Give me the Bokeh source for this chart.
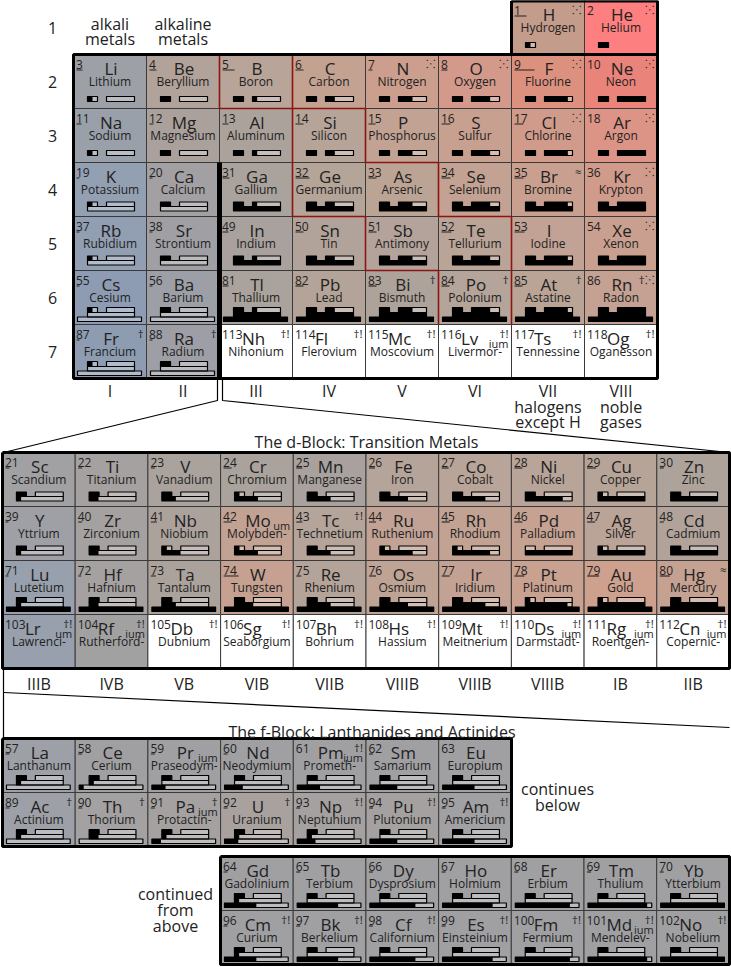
from bokeh.plotting import figure
from bokeh.models import Range1d
from bokeh.embed import file_html
from bokeh.resources import INLINE
from bokeh.core.properties import value

FONT = "Open Sans"
INK = "#222222"

# ---------------- main table data ----------------
main_sym = ["H", "He",
            "Li", "Be", "B", "C", "N", "O", "F", "Ne",
            "Na", "Mg", "Al", "Si", "P", "S", "Cl", "Ar",
            "K", "Ca", "Ga", "Ge", "As", "Se", "Br", "Kr",
            "Rb", "Sr", "In", "Sn", "Sb", "Te", "I", "Xe",
            "Cs", "Ba", "Tl", "Pb", "Bi", "Po", "At", "Rn",
            "Fr", "Ra", "Nh", "Fl", "Mc", "Lv", "Ts", "Og"]
main_num = [1, 2,
            3, 4, 5, 6, 7, 8, 9, 10,
            11, 12, 13, 14, 15, 16, 17, 18,
            19, 20, 31, 32, 33, 34, 35, 36,
            37, 38, 49, 50, 51, 52, 53, 54,
            55, 56, 81, 82, 83, 84, 85, 86,
            87, 88, 113, 114, 115, 116, 117, 118]
main_name = ["Hydrogen", "Helium",
             "Lithium", "Beryllium", "Boron", "Carbon", "Nitrogen", "Oxygen", "Fluorine", "Neon",
             "Sodium", "Magnesium", "Aluminum", "Silicon", "Phosphorus", "Sulfur", "Chlorine", "Argon",
             "Potassium", "Calcium", "Gallium", "Germanium", "Arsenic", "Selenium", "Bromine", "Krypton",
             "Rubidium", "Strontium", "Indium", "Tin", "Antimony", "Tellurium", "Iodine", "Xenon",
             "Cesium", "Barium", "Thallium", "Lead", "Bismuth", "Polonium", "Astatine", "Radon",
             "Francium", "Radium", "Nihonium", "Flerovium", "Moscovium", "Livermor-", "Tennessine", "Oganesson"]
main_group = [7, 8] + [1, 2, 3, 4, 5, 6, 7, 8] * 6
main_period = [1, 1] + [2] * 8 + [3] * 8 + [4] * 8 + [5] * 8 + [6] * 8 + [7] * 8
main_color = ["#c49c8b", "#fd7f7f",
              "#9da1a7", "#b1a39a", "#b8a498", "#c3a292", "#cb9e8d", "#d3998a", "#dc917f", "#ea847a",
              "#9aa0a9", "#aaa19d", "#aca29c", "#b6a499", "#c1a293", "#c8a08f", "#d09b8b", "#db9485",
              "#93a0b2", "#a2a0a3", "#aaa29c", "#b5a498", "#bca495", "#c3a293", "#c9a08f", "#d09b8b",
              "#929fb3", "#a0a0a4", "#a8a19d", "#b2a39a", "#b4a39a", "#b9a497", "#c1a294", "#c9a08f",
              "#8e9cb3", "#9d9fa6", "#aaa29c", "#b3a399", "#aea39b", "#b4a49a", "#b9a496", "#c4a192",
              "#8e9cb2", "#9e9fa6", "#ffffff", "#ffffff", "#ffffff", "#ffffff", "#ffffff", "#ffffff"]
main_s = [1, 2,
          1, 2, 2, 2, 2, 2, 2, 2,
          1, 2, 2, 2, 2, 2, 2, 2,
          1, 2, 2, 2, 2, 2, 2, 2,
          1, 2, 2, 2, 2, 2, 2, 2,
          1, 2, 2, 2, 2, 2, 2, 2,
          1, 2, -1, -1, -1, -1, -1, -1]
main_p = [0, 0] + [0, 0, 1, 2, 3, 4, 5, 6] * 5 + [0, 0, -1, -1, -1, -1, -1, -1]
main_d = [0, 0] + [0] * 16 + [0, 0, 10, 10, 10, 10, 10, 10] * 3 + [0, 0, -1, -1, -1, -1, -1, -1]
main_f = [0, 0] + [0] * 32 + [0, 0, 14, 14, 14, 14, 14, 14] + [0, 0, -1, -1, -1, -1, -1, -1]
main_mark = ["\u2059", "\u2059",
             "", "", "", "", "\u2059", "\u2059", "\u2059", "\u2059",
             "", "", "", "", "", "", "\u2059", "\u2059",
             "", "", "", "", "", "", "\u2248", "\u2059",
             "", "", "", "", "", "", "", "\u2059",
             "", "", "", "", "\u2020", "\u2020", "\u2020", "\u2020\u2059",
             "\u2020", "\u2020", "\u2020!", "\u2020!", "\u2020!", "\u2020!", "\u2020!", "\u2020!"]
main_suffix = [""] * 47 + ["ium", "", ""]
main_ul = [12, 0,
           6, 7, 12, 8, 4, 6, 20, 0,
           5, 4, 6, 8, 7, 9, 9, 0,
           3, 3, 7, 14, 8, 9, 9, 0,
           3, 3, 6, 8, 8, 10, 10, 0,
           3, 3, 6, 8, 8, 8, 8, 0,
           3, 3, 0, 0, 0, 0, 0, 0]

# ---------------- d-block data ----------------
d_sym = ["Sc", "Ti", "V", "Cr", "Mn", "Fe", "Co", "Ni", "Cu", "Zn",
         "Y", "Zr", "Nb", "Mo", "Tc", "Ru", "Rh", "Pd", "Ag", "Cd",
         "Lu", "Hf", "Ta", "W", "Re", "Os", "Ir", "Pt", "Au", "Hg",
         "Lr", "Rf", "Db", "Sg", "Bh", "Hs", "Mt", "Ds", "Rg", "Cn"]
d_num = list(range(21, 31)) + list(range(39, 49)) + list(range(71, 81)) + list(range(103, 113))
d_name = ["Scandium", "Titanium", "Vanadium", "Chromium", "Manganese", "Iron", "Cobalt", "Nickel", "Copper", "Zinc",
          "Yttrium", "Zirconium", "Niobium", "Molybden-", "Technetium", "Ruthenium", "Rhodium", "Palladium", "Silver", "Cadmium",
          "Lutetium", "Hafnium", "Tantalum", "Tungsten", "Rhenium", "Osmium", "Iridium", "Platinum", "Gold", "Mercury",
          "Lawrenci-", "Rutherford-", "Dubnium", "Seaborgium", "Bohrium", "Hassium", "Meitnerium", "Darmstadt-", "Roentgen-", "Copernic-"]
d_period = [4] * 10 + [5] * 10 + [6] * 10 + [7] * 10
d_color = ["#a1a0a2", "#a5a1a0", "#a9a29d", "#aaa29c", "#a8a19d", "#b5a49a", "#b8a498", "#b8a498", "#b7a498", "#aea39b",
           "#9fa0a5", "#a5a1a0", "#aca29c", "#c2a293", "#b5a49a", "#c1a294", "#c2a293", "#c5a292", "#b9a497", "#b1a39a",
           "#97a0ac", "#a5a1a0", "#aba29c", "#c6a191", "#b4a399", "#bfa394", "#c3a293", "#c8a190", "#cea08e", "#c5a191",
           "#97a0ac", "#a1a1a2"] + ["#ffffff"] * 8
d_s = [2, 2, 2, 1, 2, 2, 2, 2, 1, 2, 2, 2, 1, 1, 2, 1, 1, 0, 1, 2, 2, 2, 2, 2, 2, 2, 2, 1, 1, 2] + [-1] * 10
d_d = [1, 2, 3, 5, 5, 6, 7, 8, 10, 10, 1, 2, 4, 5, 5, 7, 8, 10, 10, 10, 1, 2, 3, 4, 5, 6, 7, 9, 10, 10] + [-1] * 10
d_f = [0] * 20 + [14] * 10 + [-1] * 10
d_mark = [""] * 14 + ["\u2020!"] + [""] * 14 + ["\u2248"] + ["\u2020!"] * 10
d_suffix = [""] * 13 + ["um"] + [""] * 16 + ["um", "ium", "", "", "", "", "", "ium", "ium", "ium"]
d_ul = [4, 4, 4, 8, 6, 6, 7, 8, 9, 4,
        3, 4, 6, 8, 6, 7, 8, 8, 8, 4,
        3, 3, 5, 15, 5, 7, 8, 10, 12, 10,
        0, 0, 0, 0, 0, 0, 0, 0, 0, 0]
d_label = ["IIIB", "IVB", "VB", "VIB", "VIIB", "VIIIB", "VIIIB", "VIIIB", "IB", "IIB"]

# ---------------- f-block data ----------------
f1_sym = ["La", "Ce", "Pr", "Nd", "Pm", "Sm", "Eu", "Ac", "Th", "Pa", "U", "Np", "Pu", "Am"]
f1_num = [57, 58, 59, 60, 61, 62, 63, 89, 90, 91, 92, 93, 94, 95]
f1_name = ["Lanthanum", "Cerium", "Praseodym-", "Neodymium", "Prometh-", "Samarium", "Europium",
           "Actinium", "Thorium", "Protactin-", "Uranium", "Neptunium", "Plutonium", "Americium"]
f1_period = [6] * 7 + [7] * 7
f1_color = ["#9ea0a7", "#a0a0a3", "#a0a0a3", "#a0a0a3", "#a0a0a3", "#a0a0a3", "#a0a0a3",
            "#9ea0a7", "#a3a1a1", "#a4a1a0", "#a8a19e", "#a5a1a0", "#a4a1a0", "#a1a0a3"]
f1_s = [2] * 14
f1_d = [1, 1, 0, 0, 0, 0, 0, 1, 2, 1, 1, 1, 0, 0]
f1_f = [0, 1, 3, 4, 5, 6, 7, 0, 0, 2, 3, 4, 6, 7]
f1_mark = ["", "", "", "", "\u2020!", "", "", "\u2020", "\u2020", "\u2020", "\u2020", "\u2020!", "\u2020!", "\u2020!"]
f1_suffix = ["", "", "ium", "", "ium", "", "", "", "", "ium", "", "", "", ""]
f1_ul = [4, 4, 4, 4, 0, 4, 0, 4, 4, 4, 4, 4, 4, 4]

f2_sym = ["Gd", "Tb", "Dy", "Ho", "Er", "Tm", "Yb", "Cm", "Bk", "Cf", "Es", "Fm", "Md", "No"]
f2_num = [64, 65, 66, 67, 68, 69, 70, 96, 97, 98, 99, 100, 101, 102]
f2_name = ["Gadolinium", "Terbium", "Dysprosium", "Holmium", "Erbium", "Thulium", "Ytterbium",
           "Curium", "Berkelium", "Californium", "Einsteinium", "Fermium", "Mendelev-", "Nobelium"]
f2_period = [6] * 7 + [7] * 7
f2_color = ["#a0a0a3"] * 14
f2_s = [2] * 14
f2_d = [1, 0, 0, 0, 0, 0, 0, 1, 0, 0, 0, 0, 0, 0]
f2_f = [7, 9, 10, 11, 12, 13, 14, 7, 9, 10, 11, 12, 13, 14]
f2_mark = [""] * 7 + ["\u2020!"] * 7
f2_suffix = [""] * 12 + ["ium", ""]
f2_ul = [4, 4, 4, 4, 4, 4, 4, 4, 4, 4, 4, 0, 0, 0]

# metalloid staircase (red cell edges): vertical = (group column, period), horizontal = (group column, period top edge)
red_v = [(3, 2), (4, 3), (4, 4), (5, 5), (6, 6), (4, 2), (5, 3), (6, 4), (7, 5), (7, 6)]
red_h = [(3, 3), (4, 5), (5, 6), (4, 3), (5, 4), (6, 5)]

group_labels = ["I", "II", "III", "IV", "V", "VI", "VII", "VIII"]
period_labels = ["1", "2", "3", "4", "5", "6", "7"]

# ---------------- drawing helpers ----------------
cells = {"l": [], "r": [], "t": [], "b": [], "c": []}
box_out = {"l": [], "r": [], "t": [], "b": []}
box_fill = {"l": [], "r": [], "t": [], "b": []}
ul_seg = {"x0": [], "y0": [], "x1": [], "y1": []}
texts = {}


def add_text(x, y, t, size, align="left", baseline="middle", color=INK):
    key = (size, align, baseline, color)
    d = texts.setdefault(key, {"x": [], "y": [], "t": []})
    d["x"].append(x)
    d["y"].append(y)
    d["t"].append(t)


def add_box(x0, y0, k, a, b, ytop, ybot, n, cap):
    l, r = x0 + a * k, x0 + b * k
    box_out["l"].append(l); box_out["r"].append(r)
    box_out["t"].append(y0 + ytop); box_out["b"].append(y0 + ybot)
    if n > 0:
        box_fill["l"].append(l); box_fill["r"].append(l + (r - l) * n / cap)
        box_fill["t"].append(y0 + ytop); box_fill["b"].append(y0 + ybot)


def add_bars(x0, y0, w, period, s, pp, d, f):
    k = w / 73.0
    if period <= 3:
        sp = (42, 47); drow = None; frow = None
    elif period <= 5:
        sp = (39.5, 44); drow = (44, 48.5); frow = None
    else:
        sp = (37, 42); drow = (42, 46.5); frow = (46.5, 51)
    if frow:
        add_box(x0, y0, k, 4, 68, frow[0], frow[1], f, 14)
    if drow:
        add_box(x0, y0, k, 14, 61, drow[0], drow[1], d, 10)
    add_box(x0, y0, k, 14, 24, sp[0], sp[1], s, 2)
    if period > 1:
        add_box(x0, y0, k, 33, 61, sp[0], sp[1], pp, 6)


def add_cell(x0, y0, w, h, num, sym, name, color, period, s, pp, d, f, mark, suffix, ul):
    cells["l"].append(x0); cells["r"].append(x0 + w)
    cells["t"].append(y0); cells["b"].append(y0 + h); cells["c"].append(color)
    add_text(x0 + 2.5, y0 + 10, str(num), 12, "left")
    if ul > 0:
        ul_seg["x0"].append(x0 + 3); ul_seg["x1"].append(x0 + 3 + ul)
        ul_seg["y0"].append(y0 + 15.5); ul_seg["y1"].append(y0 + 15.5)
    if num >= 100:
        add_text(x0 + 22.5, y0 + 13.5, sym, 17, "left")
    else:
        add_text(x0 + w / 2 + 1, y0 + 13.5, sym, 17, "center")
    if mark:
        add_text(x0 + w - 3, y0 + 8.5, mark, 11.5, "right")
    if suffix:
        add_text(x0 + w - 3, y0 + 19, suffix, 11, "right")
    add_text(x0 + w / 2, y0 + 27, name, 12, "center")
    if s >= 0:
        add_bars(x0, y0, w, period, s, pp, d, f)


# ---------------- layout ----------------
MX, CW, RH = 73.0, 73.0, 54.0
for i in range(len(main_sym)):
    x0 = MX + CW * (main_group[i] - 1)
    y0 = RH * (main_period[i] - 1)
    add_cell(x0, y0, CW, RH, main_num[i], main_sym[i], main_name[i], main_color[i], main_period[i],
             main_s[i], main_p[i], main_d[i], main_f[i], main_mark[i], main_suffix[i], main_ul[i])

DX, DY, DW = 2.0, 452.0, 72.7
for i in range(len(d_sym)):
    x0 = DX + DW * (i % 10)
    y0 = DY + RH * (i // 10)
    add_cell(x0, y0, DW, RH, d_num[i], d_sym[i], d_name[i], d_color[i], d_period[i],
             d_s[i], 0, d_d[i], d_f[i], d_mark[i], d_suffix[i], d_ul[i])

F1X, F1Y = 2.0, 738.0
for i in range(len(f1_sym)):
    x0 = F1X + DW * (i % 7)
    y0 = F1Y + RH * (i // 7)
    add_cell(x0, y0, DW, RH, f1_num[i], f1_sym[i], f1_name[i], f1_color[i], f1_period[i],
             f1_s[i], 0, f1_d[i], f1_f[i], f1_mark[i], f1_suffix[i], f1_ul[i])

F2X, F2Y = 220.0, 856.0
for i in range(len(f2_sym)):
    x0 = F2X + DW * (i % 7)
    y0 = F2Y + RH * (i // 7)
    add_cell(x0, y0, DW, RH, f2_num[i], f2_sym[i], f2_name[i], f2_color[i], f2_period[i],
             f2_s[i], 0, f2_d[i], f2_f[i], f2_mark[i], f2_suffix[i], f2_ul[i])

# labels
LS = 16
for i, t in enumerate(period_labels):
    add_text(52, RH * i + RH / 2, t, LS, "center")
for i, t in enumerate(group_labels):
    add_text(MX + CW * i + CW / 2, 390, t, LS, "center")
add_text(MX + CW * 6 + CW / 2, 406, "halogens", LS, "center")
add_text(MX + CW * 6 + CW / 2, 421, "except H", LS, "center")
add_text(MX + CW * 7 + CW / 2, 406, "noble", LS, "center")
add_text(MX + CW * 7 + CW / 2, 421, "gases", LS, "center")
add_text(MX + CW / 2, 23, "alkali", LS, "center")
add_text(MX + CW / 2, 38, "metals", LS, "center")
add_text(MX + CW * 1.5, 23, "alkaline", LS, "center")
add_text(MX + CW * 1.5, 38, "metals", LS, "center")
for i, t in enumerate(d_label):
    add_text(DX + DW * i + DW / 2, 683, t, LS, "center")
add_text(366, 441, "The d-Block: Transition Metals", LS, "center")
add_text(515, 731, "The f-Block: Lanthanides and Actinides", LS, "right")
add_text(557, 788, "continues", LS, "center")
add_text(557, 804, "below", LS, "center")
add_text(175, 893, "continued", LS, "center")
add_text(175, 909, "from", LS, "center")
add_text(175, 925, "above", LS, "center")

# ---------------- figure ----------------
p = figure(width=731, height=966, x_range=Range1d(0, 731), y_range=Range1d(966, 0),
           toolbar_location=None, output_backend="svg", min_border=0)
p.axis.visible = False
p.grid.visible = False
p.outline_line_color = None
p.background_fill_color = "white"
p.border_fill_color = "white"

p.quad(left=cells["l"], right=cells["r"], top=cells["t"], bottom=cells["b"],
       fill_color=cells["c"], line_color="#3a3a3a", line_width=1)
p.quad(left=box_out["l"], right=box_out["r"], top=box_out["t"], bottom=box_out["b"],
       fill_color="white", fill_alpha=0.3, line_color=None)
p.quad(left=box_fill["l"], right=box_fill["r"], top=box_fill["t"], bottom=box_fill["b"],
       fill_color="black", line_color=None)
p.quad(left=box_out["l"], right=box_out["r"], top=box_out["t"], bottom=box_out["b"],
       fill_color=None, line_color="black", line_width=1.2)
p.segment(x0=ul_seg["x0"], y0=ul_seg["y0"], x1=ul_seg["x1"], y1=ul_seg["y1"],
          line_color=INK, line_width=1.1)

# metalloid staircase
rx0, ry0, rx1, ry1 = [], [], [], []
for g, per in red_v:
    x = MX + CW * (g - 1)
    rx0.append(x); rx1.append(x); ry0.append(RH * (per - 1)); ry1.append(RH * per)
for g, per in red_h:
    y = RH * (per - 1)
    rx0.append(MX + CW * (g - 1)); rx1.append(MX + CW * g); ry0.append(y); ry1.append(y)
p.segment(x0=rx0, y0=ry0, x1=rx1, y1=ry1, line_color="#8e1414", line_width=1.6)

# thick outlines
p.line([511, 657, 657, 73, 73, 657], [0.5, 0.5, 378, 378, 54, 54], line_color="black", line_width=3)
p.line([511, 511], [0.5, 54], line_color="black", line_width=3)
p.quad(left=[216.5], right=[221.5], top=[162], bottom=[378], fill_color="black", line_color=None)
for (l, t, r, b) in [(2, 452, 729, 668), (2, 738, 511, 846), (220, 856, 729, 964)]:
    p.line([l, r, r, l, l], [t, t, b, b, t], line_color="black", line_width=3)

# zoom connector lines
p.line([217, 217, 3], [378, 400, 452], line_color="black", line_width=1.2)
p.line([222, 222, 729], [378, 400, 452], line_color="black", line_width=1.2)
p.line([3, 3], [668, 738], line_color="black", line_width=1.2)
p.line([3, 729], [692, 727], line_color="black", line_width=1.2)

for (size, align, baseline, color), d in texts.items():
    p.text(x=d["x"], y=d["y"], text=d["t"], text_font=value(FONT),
           text_font_size=value(f"{size}px"), text_align=align,
           text_baseline=baseline, text_color=color)

open("out.html", "w").write(file_html(p, INLINE))
